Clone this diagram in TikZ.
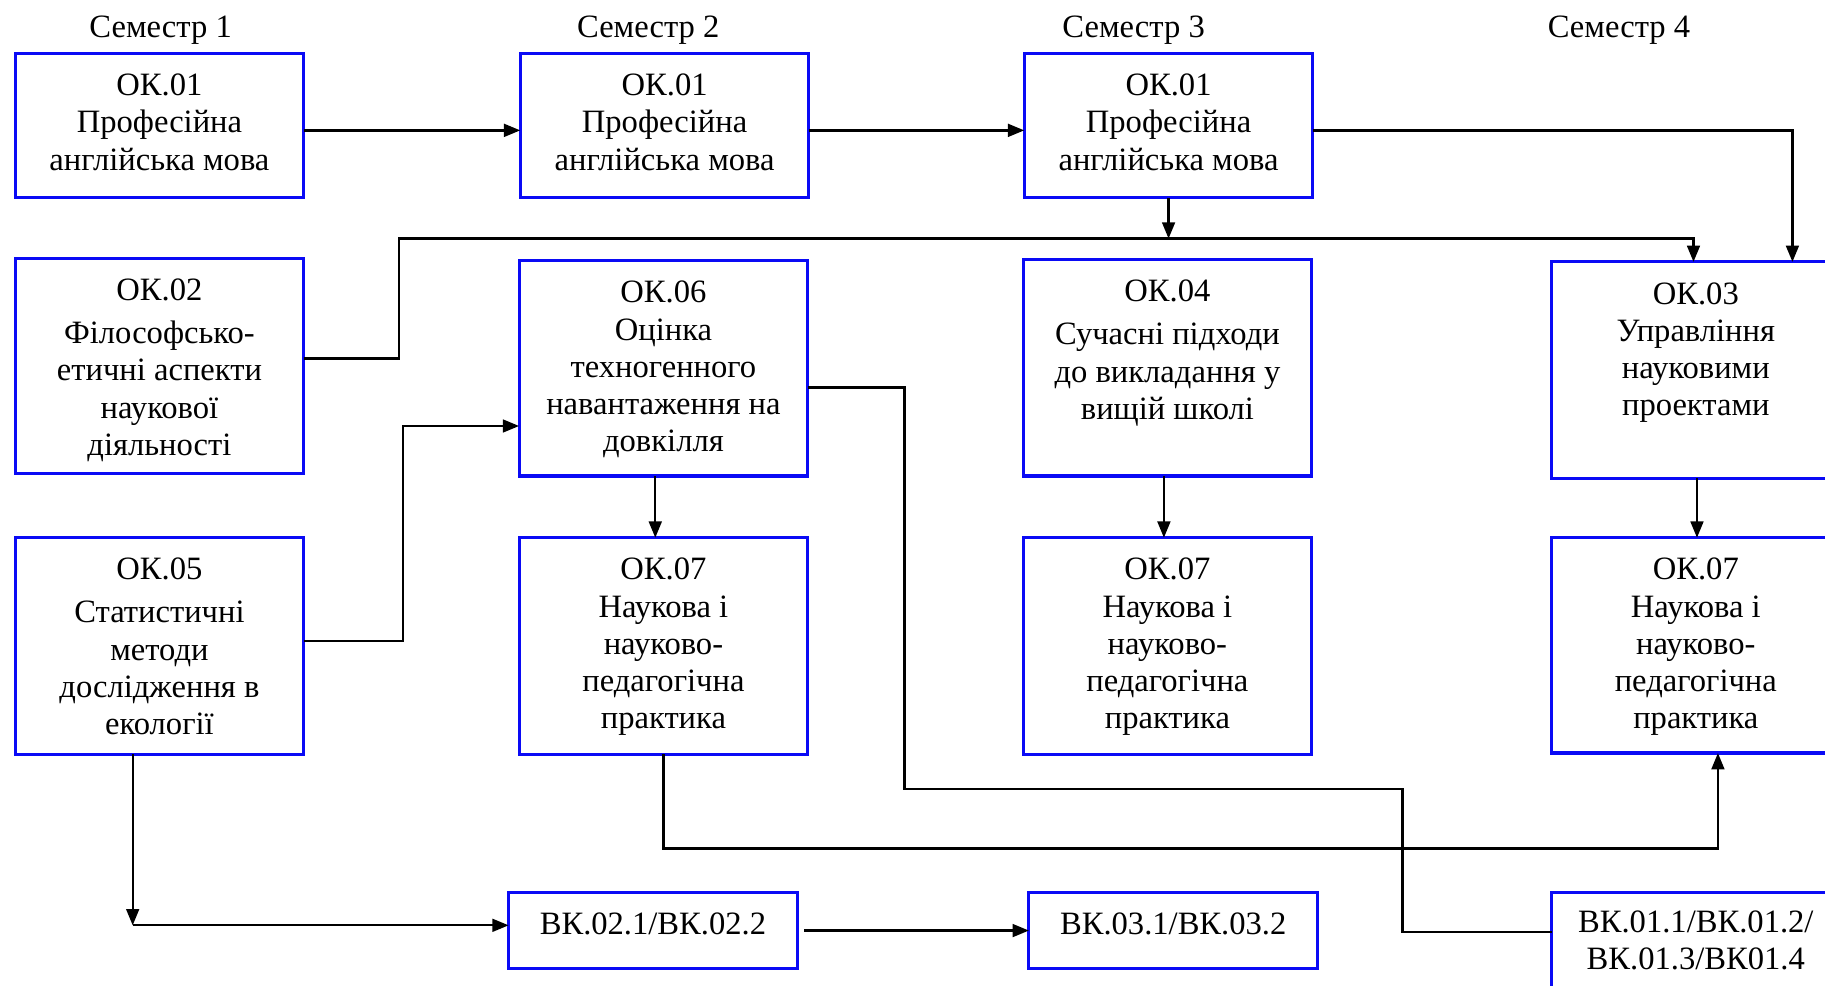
\documentclass[tikz,border=0pt]{standalone}
\usepackage{fontspec}
\setmainfont{Liberation Serif}
\usetikzlibrary{arrows.meta}
\definecolor{boxblue}{RGB}{10,10,245}
\newcommand\fst{\rule{0pt}{20pt}}
\begin{document}
\begin{tikzpicture}[x=1pt,y=-1pt,
  box/.style={draw=boxblue, line width=2.7pt, outer sep=0pt, inner sep=0pt,
              minimum width=248pt, anchor=north west},
  lbl/.style={anchor=north, yshift=-16pt, align=center, inner sep=0pt,
              font=\fontsize{28}{32}\selectfont},
  sem/.style={anchor=base, inner sep=0pt, font=\fontsize{28}{32}\selectfont},
  con/.style={line width=2pt, draw=black},
  arr/.style={con, -{Triangle[length=14pt,width=11pt]}}]
\clip (0,0) rectangle (1568,847);
\fill[white] (0,0) rectangle (1568,847);

% semester headings
\node[sem] (s1) at (138,32) {Семестр 1};
\node[sem] (s2) at (557,32) {Семестр 2};
\node[sem] (s3) at (974,32) {Семестр 3};
\node[sem] (s4) at (1391,32) {Семестр 4};

% row 1
\node[box, minimum height=124pt, label={[lbl]north:\fst ОК.01\\Професійна\\англійська мова}] (a1) at (13,46) {};
\node[box, minimum height=124pt, label={[lbl]north:\fst ОК.01\\Професійна\\англійська мова}] (a2) at (447,46) {};
\node[box, minimum height=124pt, label={[lbl]north:\fst ОК.01\\Професійна\\англійська мова}] (a3) at (880,46) {};

% row 2
\node[box, minimum height=185pt, label={[lbl]north:\fst ОК.02\\[5pt]Філософсько-\\етичні аспекти\\наукової\\діяльності}] (b1) at (13,222) {};
\node[box, minimum height=185pt, label={[lbl]north:\fst ОК.06\\Оцінка\\техногенного\\навантаження на\\довкілля}] (b2) at (446,224) {};
\node[box, minimum height=186pt, label={[lbl]north:\fst ОК.04\\[5pt]Сучасні підходи\\до викладання у\\вищій школі}] (b3) at (879,223) {};
\node[box, minimum height=186pt, label={[lbl]north:\fst ОК.03\\Управління\\науковими\\проектами}] (b4) at (1333,225) {};

% row 3
\node[box, minimum height=186pt, label={[lbl]north:\fst ОК.05\\[5pt]Статистичні\\методи\\дослідження в\\екології}] (c1) at (13,462) {};
\node[box, minimum height=186pt, label={[lbl]north:\fst ОК.07\\Наукова і\\науково-\\педагогічна\\практика}] (c2) at (446,462) {};
\node[box, minimum height=186pt, label={[lbl]north:\fst ОК.07\\Наукова і\\науково-\\педагогічна\\практика}] (c3) at (879,462) {};
\node[box, minimum height=185pt, label={[lbl]north:\fst ОК.07\\Наукова і\\науково-\\педагогічна\\практика}] (c4) at (1333,462) {};

% row 4
\node[box, minimum height=65pt, label={[lbl]north:\fst ВК.02.1/ВК.02.2}] (d1) at (437,767) {};
\node[box, minimum height=65pt, label={[lbl]north:\fst ВК.03.1/ВК.03.2}] (d2) at (884,767) {};
\node[box, minimum height=110pt, label={[lbl, yshift=2pt]north:\fst ВК.01.1/ВК.01.2/\\ВК.01.3/ВК01.4}] (d3) at (1333,767) {};

% junction points
\coordinate (j1) at (343,205);
\coordinate (j3) at (346,366);
\coordinate (j4) at (777,678);
\coordinate (j5) at (1205,801);
\coordinate (j6) at (1476,729);
\coordinate (j7) at (114,795);

% connectors
\draw[arr] ([yshift=-66pt]a1.north east) -- ([yshift=-66pt]a2.north west);
\draw[arr] ([yshift=-66pt]a2.north east) -- ([yshift=-66pt]a3.north west);
\draw[arr] ([yshift=-66pt]a3.north east) -| ([xshift=207pt]b4.north west);
\draw[arr] (a3.south) -- (a3.south |- j1);
\draw[arr] ([yshift=-86pt]b1.north east) -| (j1) -| ([xshift=122pt]b4.north west);
\draw[arr] ([yshift=-89pt]c1.north east) -| (j3) -- (b2.west |- j3);
\draw[arr] ([xshift=117pt]b2.south west) -- ([xshift=117pt]c2.north west);
\draw[con] ([yshift=-109pt]b2.north east) -| (j4) -| (j5) -- (d3.west |- j5);
\draw[arr] ([xshift=121pt]b3.south west) -- ([xshift=121pt]c3.north west);
\draw[arr] ([xshift=125pt]b4.south west) -- ([xshift=125pt]c4.north west);
\draw[arr] ([xshift=124pt]c2.south west) |- (j6) -- (c4.south west -| j6);
\draw[arr] ([xshift=101pt]c1.south west) -- (j7);
\draw[arr] (j7) -- (d1.west |- j7);
\draw[arr] ([xshift=6pt]d1.east) -- (d2.west);
\end{tikzpicture}
\end{document}
